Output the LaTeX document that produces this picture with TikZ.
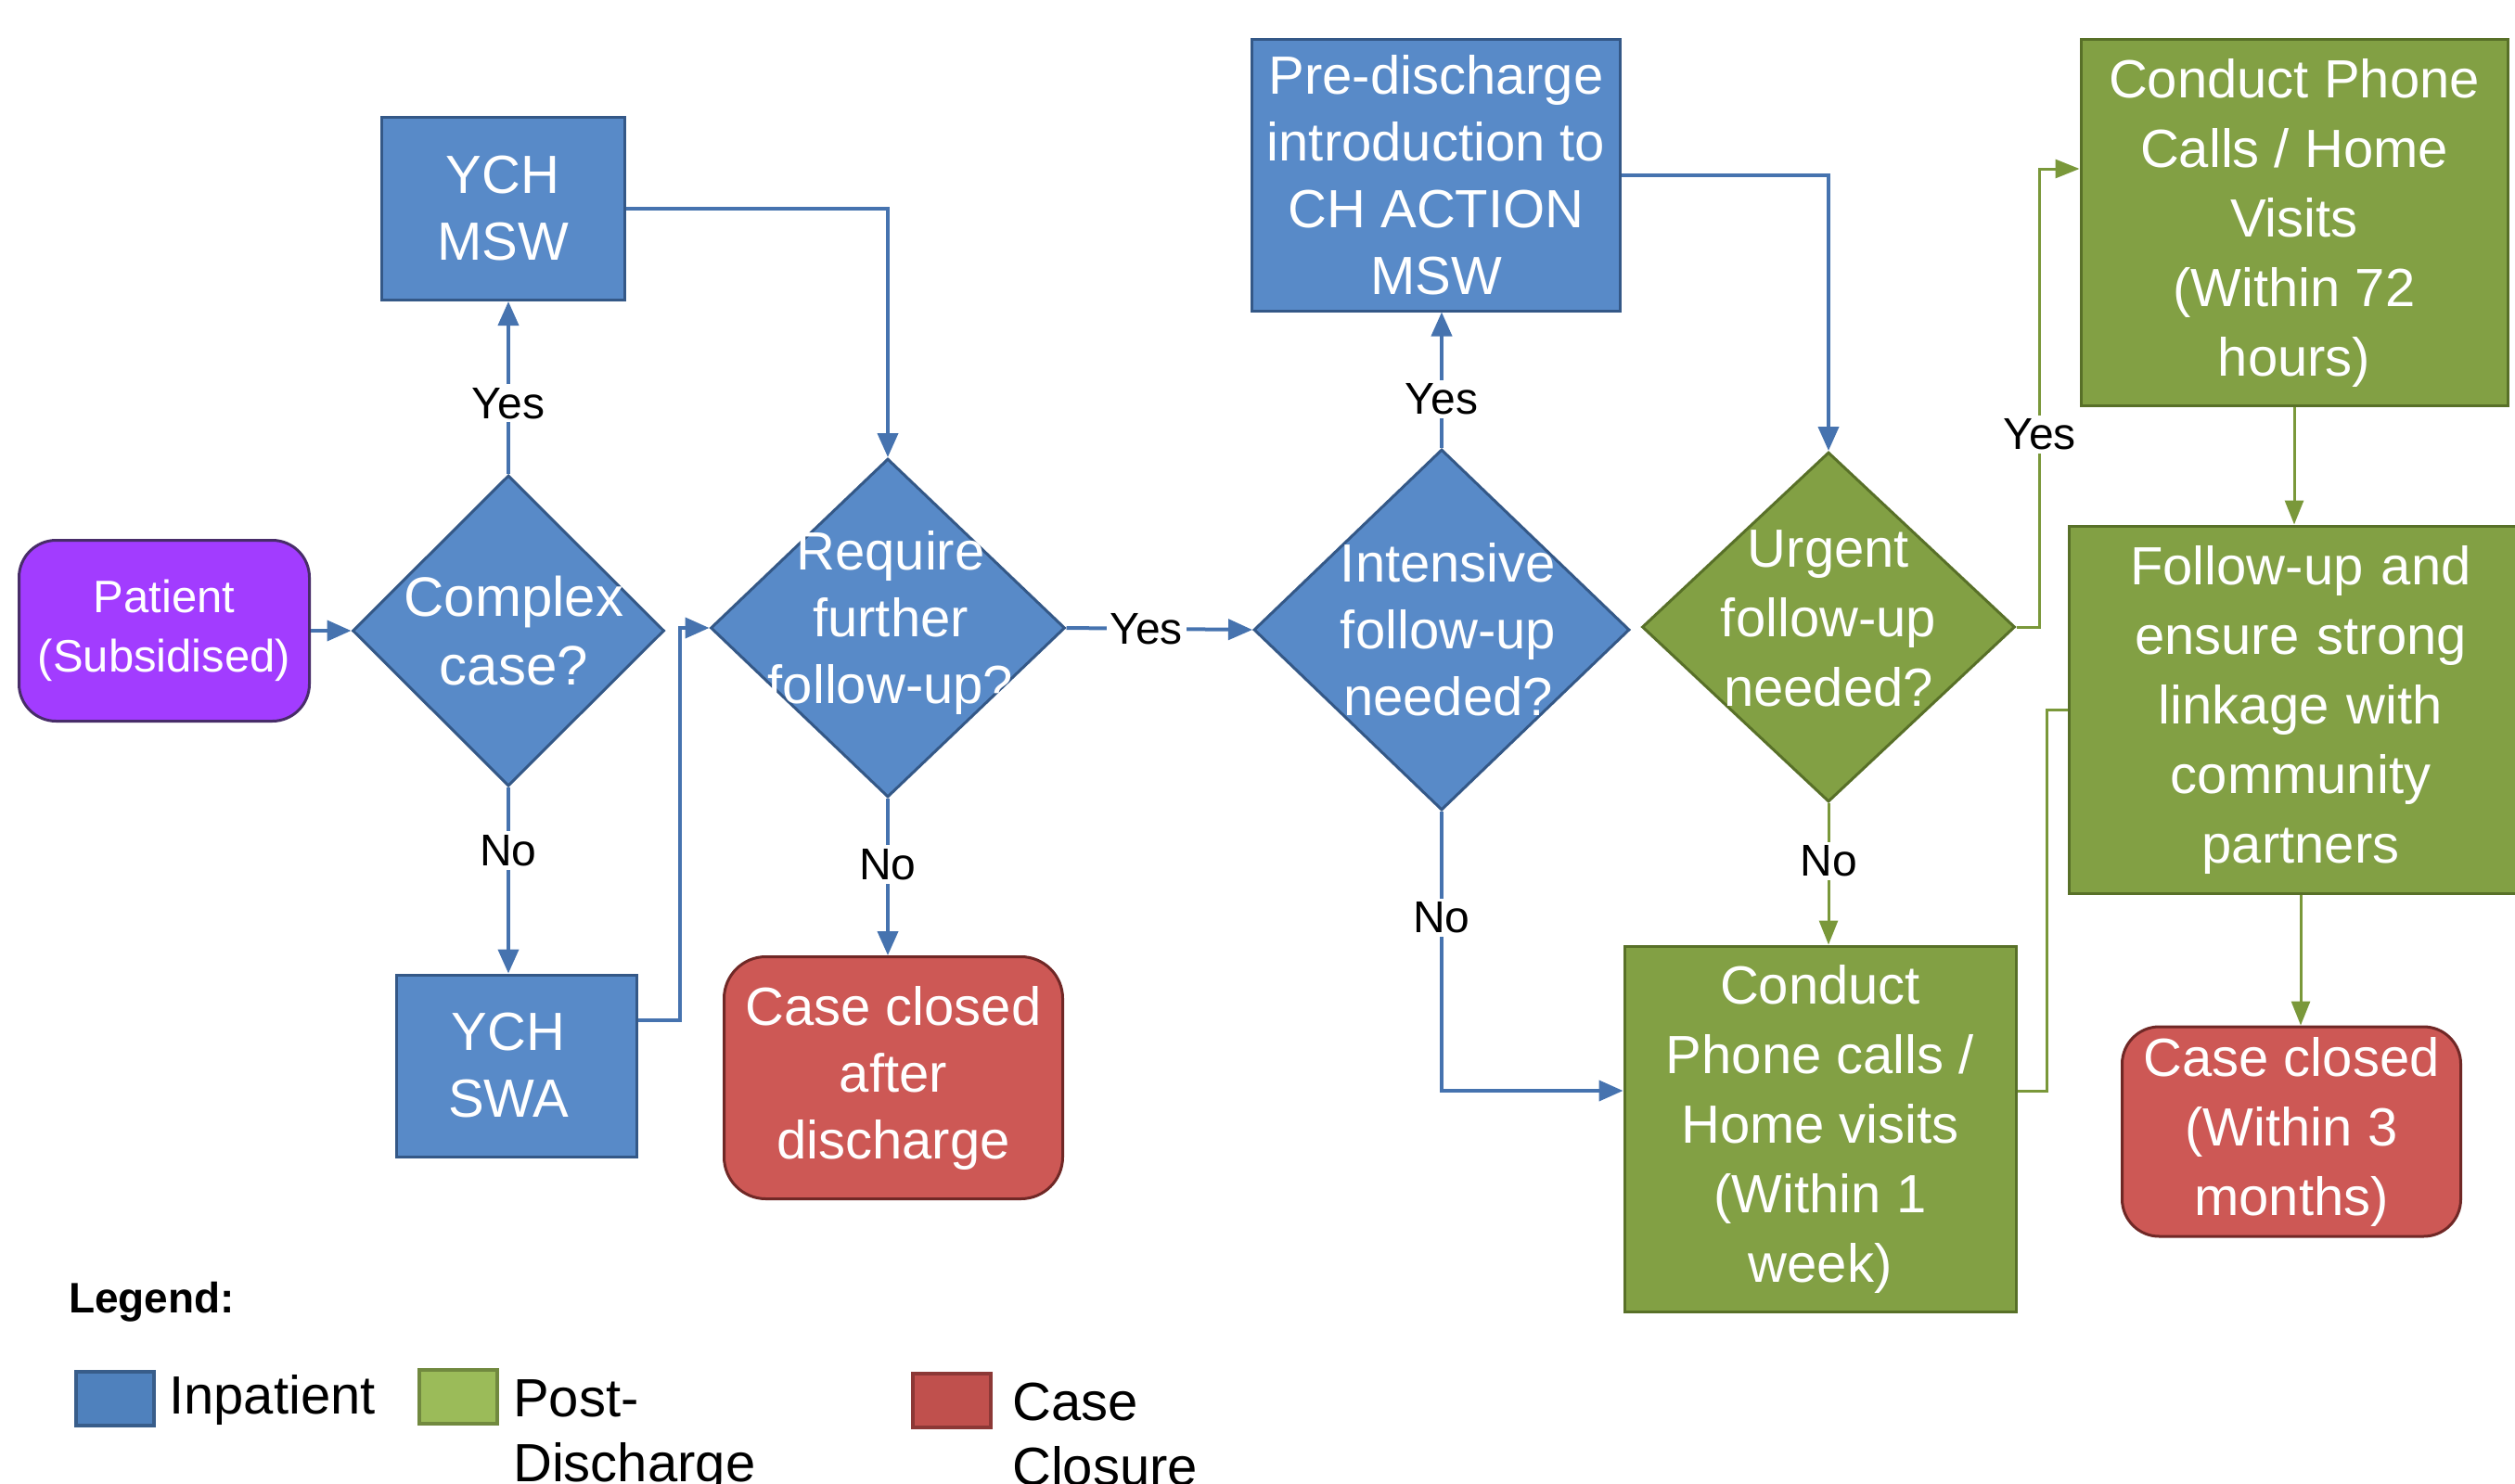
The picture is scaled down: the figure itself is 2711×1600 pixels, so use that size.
\documentclass[tikz,border=0pt]{standalone}
\usepackage{fontspec}
\setmainfont{Liberation Sans}
\usetikzlibrary{shapes.geometric,arrows.meta,calc}
\definecolor{bfill}{RGB}{88,138,200}
\definecolor{bdraw}{RGB}{52,88,135}
\definecolor{gfill}{RGB}{130,160,68}
\definecolor{gdraw}{RGB}{88,112,40}
\definecolor{rfill}{RGB}{205,88,85}
\definecolor{rdraw}{RGB}{112,40,38}
\definecolor{pfill}{RGB}{162,60,255}
\definecolor{pdraw}{RGB}{72,45,105}
\definecolor{lblue}{RGB}{70,115,175}
\definecolor{lgreen}{RGB}{122,152,58}
\definecolor{legb}{RGB}{79,129,189}
\definecolor{legbd}{RGB}{56,93,138}
\definecolor{legg}{RGB}{155,187,89}
\definecolor{leggd}{RGB}{113,137,63}
\definecolor{legr}{RGB}{192,80,77}
\definecolor{legrd}{RGB}{140,56,54}
\begin{document}
\begin{tikzpicture}[x=1pt,y=-1pt,
  base/.style={font=\fontsize{58}{72}\selectfont, text=white, align=center, inner sep=0pt, line width=3pt},
  loose/.style={font=\fontsize{58}{75}\selectfont},
  bluebox/.style={base, rectangle, fill=bfill, draw=bdraw},
  greenbox/.style={base, rectangle, fill=gfill, draw=gdraw},
  redbox/.style={base, rectangle, rounded corners=45pt, fill=rfill, draw=rdraw},
  dia/.style={diamond, inner sep=0pt, line width=3pt},
  dtext/.style={font=\fontsize{58}{72}\selectfont, text=white, align=center},
  lab/.style={font=\fontsize{48}{58}\selectfont, fill=white, inner sep=4pt, text=black},
  barrow/.style={draw=lblue, line width=4pt, -{Triangle[length=26pt,width=22pt]}},
  bline/.style={draw=lblue, line width=4pt},
  garrow/.style={draw=lgreen, line width=3pt, -{Triangle[length=26pt,width=20pt]}},
  gline/.style={draw=lgreen, line width=3pt},
  legsq/.style={rectangle, line width=4pt, minimum width=84pt, minimum height=58pt, inner sep=0pt},
  legtext/.style={font=\fontsize{58}{70}\selectfont, align=left, inner sep=0pt, anchor=north west}
]
\useasboundingbox (0,0) rectangle (2711,1600);
\clip (0,0) rectangle (2711,1600);

% nodes
\node[base, rectangle, rounded corners=40pt, fill=pfill, draw=pdraw, font=\fontsize{49}{64}\selectfont,
      minimum width=313pt, minimum height=195pt] (patient) at (177,680) {Patient\\(Subsidised)};

\node[dia, fill=bfill, draw=bdraw, minimum width=336pt, minimum height=335pt,
      label={[dtext, font=\fontsize{60}{74}\selectfont, xshift=6pt]center:{Complex\\case?}}] (complex) at (548,680) {};
\node[bluebox, minimum width=262pt, minimum height=197pt] (msw) at (542,225) {YCH\\MSW};
\node[bluebox, minimum width=259pt, minimum height=196pt, text width=240pt] (swa) at (557,1149) {\hspace*{-18pt}YCH\\\hspace*{-18pt}SWA};

\node[dia, fill=bfill, draw=bdraw, minimum width=382pt, minimum height=365pt,
      label={[dtext, xshift=3pt, yshift=6pt]center:{Require\\further\\follow-up?}}] (require) at (957,677) {};
\node[redbox, minimum width=365pt, minimum height=261pt] (cca) at (963,1162) {Case closed\\after\\discharge};

\node[dia, fill=bfill, draw=bdraw, minimum width=405pt, minimum height=389pt,
      label={[dtext, xshift=7pt]center:{Intensive\\follow-up\\needed?}}] (intensive) at (1554,679) {};
\node[bluebox, minimum width=397pt, minimum height=292pt] (pre) at (1548,189) {Pre-discharge\\introduction to\\CH ACTION\\MSW};

\node[dia, fill=gfill, draw=gdraw, minimum width=402pt, minimum height=377pt,
      label={[dtext, font=\fontsize{58}{75}\selectfont, yshift=9pt]center:{Urgent\\follow-up\\needed?}}] (urgent) at (1971,676) {};
\node[greenbox, loose, minimum width=422pt, minimum height=394pt] (c1w) at (1962,1217) {Conduct\\Phone calls /\\Home visits\\(Within 1\\week)};

\node[greenbox, loose, minimum width=460pt, minimum height=394pt] (c72) at (2473,240) {Conduct Phone\\Calls / Home\\Visits\\(Within 72\\hours)};
\node[greenbox, loose, minimum width=500pt, minimum height=396pt, text width=480pt] (fu) at (2480,765) {Follow-up and\\ensure strong\\linkage with\\community\\partners};
\node[redbox, loose, rounded corners=40pt, minimum width=365pt, minimum height=226pt] (cc3) at (2470,1220) {Case closed\\(Within 3\\months)};

% connectors
\draw[barrow] (patient.east) -- (complex.west);
\draw[barrow] (complex.north) -- node[lab, pos=0.41] {Yes} (complex.north |- msw.south);
\draw[barrow] (complex.south) -- node[lab, pos=0.34] {No} (complex.south |- swa.north);
\draw[barrow] (msw.east) -| (require.north);
\draw[barrow] ([yshift=49pt]swa.east) -- ++(45,0) |- (require.west);
\draw[barrow] (require.south) -- node[lab, pos=0.42] {No} (require.south |- cca.north);
\draw[barrow] (require.east) -- node[lab, pos=0.43] {Yes} (intensive.west);
\draw[barrow] (intensive.north) -- node[lab, pos=0.36] {Yes} (intensive.north |- pre.south);
\draw[barrow] (pre.east) -| (urgent.north);
\draw[barrow] (intensive.south) |- node[lab, pos=0.19] {No} ([yshift=41pt]c1w.west);

\draw[garrow] (urgent.south) -- node[lab, pos=0.41] {No} (urgent.south |- c1w.north);
\draw[garrow] (urgent.east) -- ++(25,0) |- node[lab, pos=0.21] {Yes} ([yshift=58pt]c72.west);
\draw[garrow] (c72.south) -- (c72.south |- fu.north);
\draw[garrow] (fu.south) -- (fu.south |- cc3.north);
\draw[gline] ([yshift=41pt]c1w.east) -- ++(32,0) |- (fu.west);

% legend
\node[font=\bfseries\fontsize{46}{55}\selectfont, anchor=west, inner sep=0pt] (legtitle) at (74,1404) {Legend:};
\node[legsq, fill=legb, draw=legbd] (lsq1) at (124,1508) {};
\node[legtext, anchor=west] (ltx1) at (182,1509) {Inpatient};
\node[legsq, fill=legg, draw=leggd] (lsq2) at (494,1506) {};
\node[legtext] (ltx2) at (553,1487) {Post-\\Discharge};
\node[legsq, fill=legr, draw=legrd] (lsq3) at (1026,1510) {};
\node[legtext] (ltx3) at (1091,1491) {Case\\Closure};
\end{tikzpicture}
\end{document}
